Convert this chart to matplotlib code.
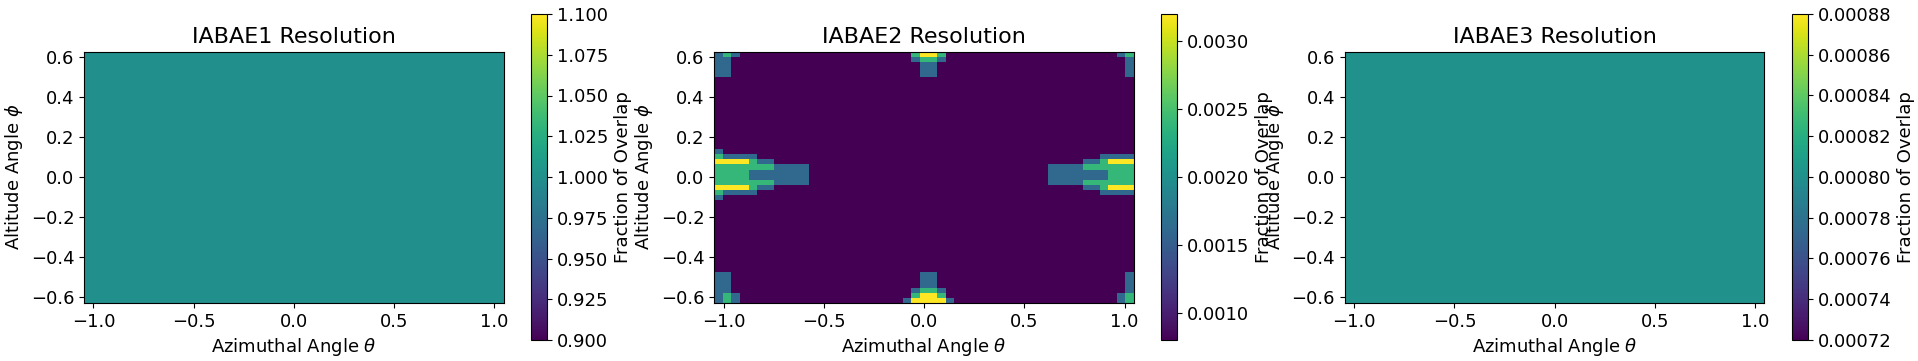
import numpy as np
import matplotlib
matplotlib.use("Agg")
import matplotlib.pyplot as plt
from matplotlib.ticker import MultipleLocator

# ---------------- data ----------------
titles = ["IABAE1 Resolution", "IABAE2 Resolution", "IABAE3 Resolution"]
n_edges = 50
theta_lim = np.pi / 3
phi_lim = np.pi / 5

value_iabae1 = 1.0
value_iabae3 = 0.0008
unit_iabae2 = 0.0008  # fraction per count level

# IABAE2 count levels (1..4), rows listed from top to bottom, run-length encoded (level, run)
row_top = [(2, 1), (3, 1), (2, 1), (1, 20), (3, 1), (4, 2), (3, 1), (1, 20), (2, 1), (3, 1)]
row_edge1 = [(2, 2), (1, 21), (2, 1), (3, 2), (2, 1), (1, 21), (2, 1)]
row_edge2 = [(2, 2), (1, 22), (2, 2), (1, 22), (2, 1)]
row_blank = [(1, 49)]
row_m19 = [(2, 1), (1, 48)]
row_m20 = [(3, 1), (2, 4), (1, 40), (2, 4)]
row_m21 = [(4, 4), (3, 1), (2, 2), (1, 36), (2, 2), (3, 1), (4, 3)]
row_m22 = [(3, 7), (2, 4), (1, 28), (2, 4), (3, 6)]
row_m23 = [(3, 4), (2, 7), (1, 28), (2, 7), (3, 3)]
row_bottom = [(2, 1), (3, 1), (2, 1), (1, 19), (2, 1), (4, 4), (2, 1), (1, 19), (2, 1), (3, 1)]

iabae2_rows = ([row_top, row_edge1, row_edge2, row_edge2, row_edge2]
               + [row_blank] * 14
               + [row_m19, row_m20, row_m21, row_m22, row_m23,
                  row_m23, row_m22, row_m21, row_m20, row_m19]
               + [row_blank] * 14
               + [row_edge2, row_edge2, row_edge2, row_edge1, row_top, row_bottom])


def expand(rows):
    out = []
    for r in rows:
        line = []
        for lev, n in r:
            line += [lev] * n
        assert len(line) == 49, (r, len(line))
        out.append(line)
    return np.array(out[::-1], dtype=float)  # bottom row first


levels2 = expand(iabae2_rows)
theta = np.linspace(-theta_lim, theta_lim, n_edges)
phi = np.linspace(-phi_lim, phi_lim, n_edges)

data = [np.full((49, 49), value_iabae1),
        levels2 * unit_iabae2,
        np.full((49, 49), value_iabae3)]

# ---------------- figure ----------------
W, H = 1918, 361
fig = plt.figure(figsize=(W / 100, H / 100), dpi=100)
fs_tick = 13
fs_label = 13
fs_title = 16

ax_lefts = [84.0, 714.3, 1344.8]
ax_w, ax_h = 419.7, 251.5
ax_bottom = H - 303.0
cb_off, cb_w = 446.7, 16.3
cb_bottom, cb_h = H - 340.0, 326.0

for i in range(3):
    l = ax_lefts[i]
    ax = fig.add_axes([l / W, ax_bottom / H, ax_w / W, ax_h / H])
    m = ax.pcolormesh(theta, phi, data[i], cmap="viridis", shading="flat")
    ax.set_xlim(-theta_lim, theta_lim)
    ax.set_ylim(-phi_lim, phi_lim)
    ax.xaxis.set_major_locator(MultipleLocator(0.5))
    ax.yaxis.set_major_locator(MultipleLocator(0.2))
    ax.set_title(titles[i], fontsize=fs_title)
    ax.set_xlabel(r"Azimuthal Angle $\theta$", fontsize=fs_label)
    ax.set_ylabel(r"Altitude Angle $\phi$", fontsize=fs_label)
    ax.tick_params(labelsize=fs_tick)
    cax = fig.add_axes([(l + cb_off) / W, cb_bottom / H, cb_w / W, cb_h / H])
    cb = fig.colorbar(m, cax=cax)
    cb.set_label("Fraction of Overlap", fontsize=fs_label)
    cb.ax.tick_params(labelsize=fs_tick)

fig.savefig("out.png", dpi=100)
